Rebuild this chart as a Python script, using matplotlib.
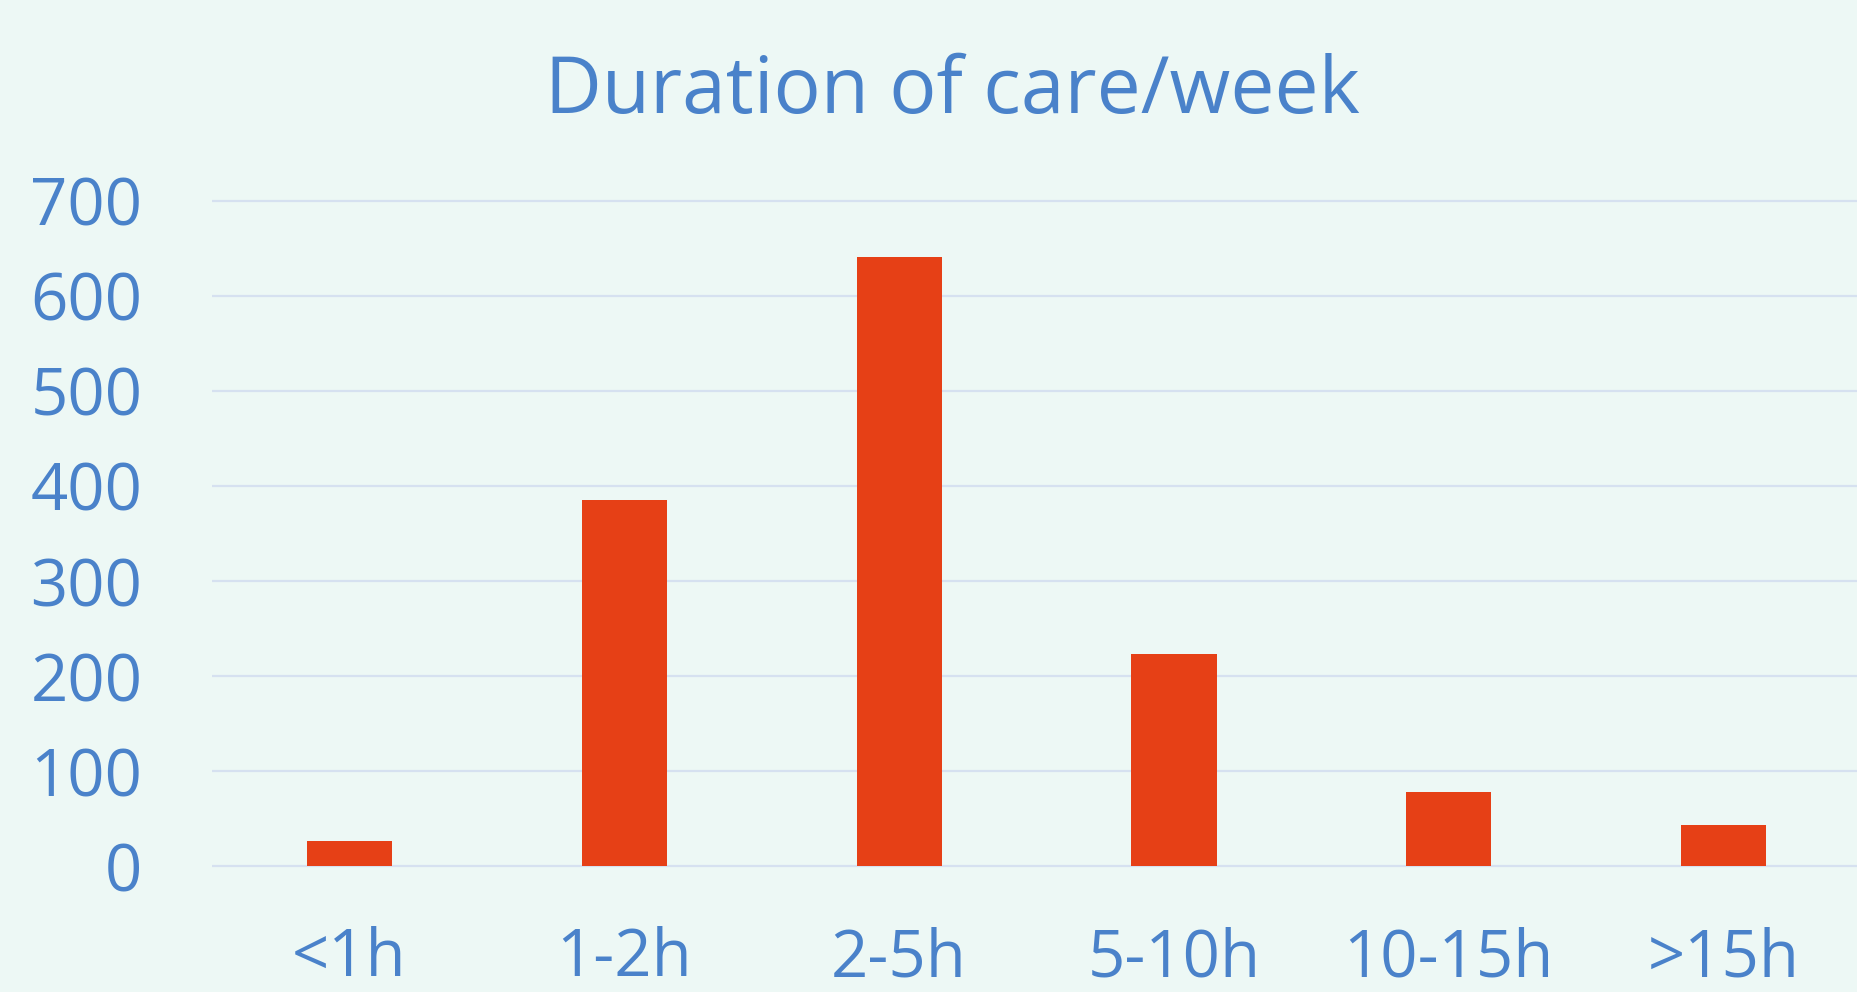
import matplotlib
matplotlib.use("Agg")
import matplotlib.pyplot as plt
import numpy as np

# data
categories = ["<1h", "1-2h", "2-5h", "5-10h", "10-15h", ">15h"]
counts = [26, 385, 641, 223, 78, 43]
yticks = [0, 100, 200, 300, 400, 500, 600, 700]

bg = "#EDF8F5"
bar_color = "#E64016"
text_color = "#4A82CA"
grid_color = "#D6E1F0"

plt.rcParams["font.family"] = ["Open Sans", "DejaVu Sans"]

fig = plt.figure(figsize=(18.57, 9.92), dpi=100, facecolor=bg)
ax = fig.add_axes([212 / 1857, 0.1222, 1 - 212 / 1857, 0.8022 - 0.1222])
ax.set_facecolor(bg)

x = np.arange(len(categories))
ax.bar(x, counts, width=0.31, color=bar_color, zorder=3)

ax.set_xlim(-0.5, 5.485)
ax.set_ylim(-5, 705)
ax.set_yticks(yticks)
ax.set_xticks(x)
ax.set_xticklabels(categories)
ax.yaxis.grid(True, color=grid_color, linewidth=1.6, zorder=0)
ax.set_axisbelow(True)

for s in ax.spines.values():
    s.set_visible(False)
ax.tick_params(axis="both", length=0, colors=text_color)
ax.tick_params(axis="y", labelsize=47, pad=50)
ax.tick_params(axis="x", labelsize=47, pad=40)

fig.text(952 / 1857, 1 - 92 / 992, "Duration of care/week", ha="center", va="center",
         fontsize=56.5, color=text_color)

plt.savefig("out.png", dpi=100, facecolor=bg)
